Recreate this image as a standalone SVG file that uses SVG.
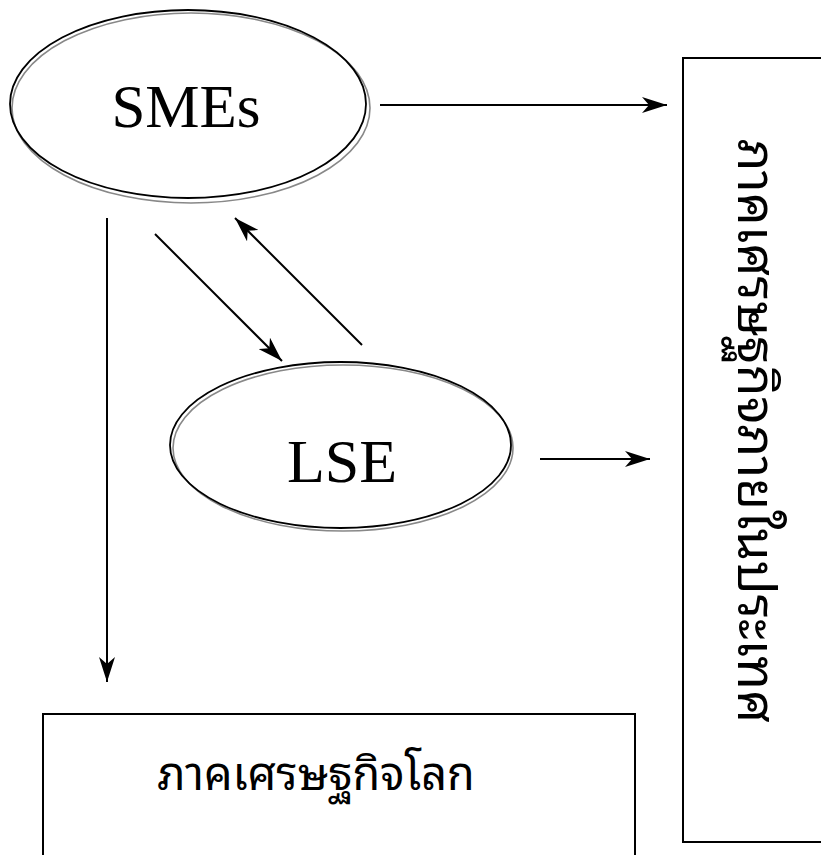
<svg xmlns="http://www.w3.org/2000/svg" width="821" height="855" viewBox="0 0 821 855">
<style>
.bg{fill:#fff}
.el-outer{fill:none;stroke:#000;stroke-width:1.8}
.el-inner{fill:none;stroke:#888;stroke-width:1.6}
.box{fill:#fff;stroke:#000;stroke-width:2}
.lat{font-family:"Liberation Serif","Times New Roman",serif;fill:#000;text-anchor:middle}
.thai{font-family:"Noto Sans Thai Looped","Noto Sans Thai","Tahoma","Loma","Garuda","Noto Sans",sans-serif;fill:#000;text-anchor:middle}
.arrow{fill:none;stroke:#000;stroke-width:2}
</style>
<defs>
<marker id="ah" viewBox="0 0 25 16" refX="25" refY="8" markerWidth="25" markerHeight="16" markerUnits="userSpaceOnUse" orient="auto">
<path d="M0,0 L25,8 L0,16 L7,8 Z" fill="#000"/>
</marker>
</defs>
<rect class="bg" x="0" y="0" width="821" height="855"/>
<g id="smes">
<ellipse class="el-inner" cx="191" cy="108" rx="179" ry="95"/>
<ellipse class="el-outer" cx="188" cy="104" rx="178" ry="94"/>
<text class="lat" x="186" y="127" font-size="61">SMEs</text>
</g>
<g id="lse">
<ellipse class="el-inner" cx="343" cy="448" rx="170" ry="83"/>
<ellipse class="el-outer" cx="340.5" cy="445" rx="170.5" ry="83"/>
<text class="lat" x="342" y="482" font-size="62">LSE</text>
</g>
<g id="domestic">
<rect class="box" x="683" y="58" width="150" height="784"/>
<text class="thai" transform="translate(738,431) rotate(90)" x="0" y="0" font-size="52">ภาคเศรษฐกิจภายในประเทศ</text>
</g>
<g id="global">
<rect class="box" x="43" y="714" width="592" height="160"/>
<text class="thai" x="316" y="790" font-size="45">ภาคเศรษฐกิจโลก</text>
</g>
<g id="connectors">
<line class="arrow" x1="380" y1="105" x2="667" y2="105" marker-end="url(#ah)"/>
<line class="arrow" x1="540" y1="459" x2="650" y2="459" marker-end="url(#ah)"/>
<line class="arrow" x1="107" y1="218" x2="107" y2="682" marker-end="url(#ah)"/>
<line class="arrow" x1="155" y1="234" x2="282" y2="361" marker-end="url(#ah)"/>
<line class="arrow" x1="362" y1="345" x2="235" y2="218" marker-end="url(#ah)"/>
</g>
</svg>
